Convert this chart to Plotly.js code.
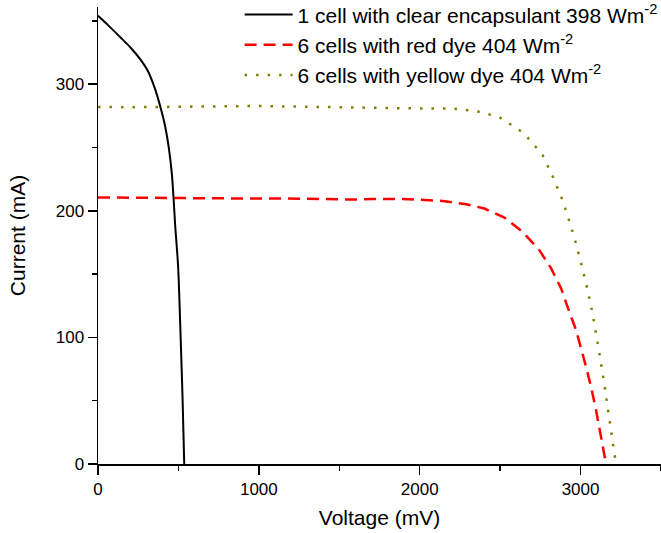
<!DOCTYPE html>
<html>
<head>
<meta charset="utf-8">
<script src="https://cdn.plot.ly/plotly-3.0.1.min.js"></script>
<style>html,body{margin:0;padding:0;background:#fff;}#chart{width:661px;height:533px;}</style>
</head>
<body>
<div id="chart"></div>
<script>
// Series names
const seriesNames = [
  "1 cell with clear encapsulant 398 Wm<sup>-2</sup>",
  "6 cells with red dye 404 Wm<sup>-2</sup>",
  "6 cells with yellow dye 404 Wm<sup>-2</sup>"
];

// 1 cell, clear encapsulant
const clearV = [0, 64, 137, 199, 261, 313, 354, 385, 416, 441, 458, 470, 479, 498, 513, 526, 536];
const clearI = [354, 346.5, 337.3, 329.4, 320, 309.7, 296.5, 283.4, 267.6, 249, 230.7, 209.7, 190, 156, 103, 50.5, 0];

// 6 cells, red dye
const redV = [0, 300, 600, 985, 1300, 1583, 1700, 1895, 2144, 2289, 2402, 2526, 2640, 2744, 2817, 2879, 2930, 2972, 3003, 3034, 3065, 3096, 3127, 3158];
const redI = [210.5, 210.3, 210, 209.7, 209.6, 208.9, 209.3, 209.4, 207.8, 205.2, 201.8, 194.7, 183.4, 168.9, 154.5, 138.7, 120.2, 105.8, 91.3, 76.8, 61, 42.6, 21.5, 0];

// 6 cells, yellow dye
const yellowV = [0, 200, 500, 987, 1400, 1918, 2206, 2351, 2495, 2640, 2702, 2764, 2831, 2889, 2934, 2976, 3013, 3046, 3075, 3100, 3127, 3148, 3168, 3189, 3220];
const yellowI = [282, 281.8, 282.2, 282.8, 282, 281, 280.7, 278.8, 274, 262, 253.6, 243.9, 226, 208, 190.4, 172, 153.7, 136.3, 118.4, 100, 79.5, 63, 45, 26.8, 0];

const FONT = "Arial, 'Liberation Sans', sans-serif";

const traces = [
  {x: clearV, y: clearI, name: seriesNames[0], mode: "lines",
   line: {color: "#000000", width: 2, shape: "spline", smoothing: 0.8, simplify: false}},
  {x: redV, y: redI, name: seriesNames[1], mode: "lines",
   line: {color: "#ff0000", width: 2.5, dash: "12px,7px", simplify: false}},
  {x: yellowV, y: yellowI, name: seriesNames[2], mode: "lines",
   line: {color: "#808000", width: 2.5, dash: "2.5px,9px", simplify: false}}
];

const axisCommon = {
  showgrid: false, zeroline: false, showline: true, linecolor: "#000", linewidth: 1.5,
  ticks: "outside", ticklen: 9, tickwidth: 1.5, tickcolor: "#000",
  tickfont: {family: FONT, size: 17, color: "#000"}
};

const layout = {
  width: 661, height: 533,
  margin: {l: 98, r: 0, t: 7, b: 69, autoexpand: false},
  paper_bgcolor: "#fff", plot_bgcolor: "#fff",
  font: {family: FONT, color: "#000"},
  xaxis: Object.assign({}, axisCommon, {
    range: [0, 3500], dtick: 1000, tick0: 0,
    minor: {ticks: "outside", ticklen: 5, tickwidth: 1.5, tickcolor: "#000", dtick: 500},
    title: {text: "Voltage (mV)", font: {family: FONT, size: 21, color: "#000"}, standoff: 12}
  }),
  yaxis: Object.assign({}, axisCommon, {
    range: [0, 361], dtick: 100, tick0: 0,
    minor: {ticks: "outside", ticklen: 5, tickwidth: 1.5, tickcolor: "#000", dtick: 50},
    title: {text: "Current (mA)", font: {family: FONT, size: 21, color: "#000"}, standoff: 24}
  }),
  showlegend: true,
  legend: {
    x: 0.2515, y: 1.0277, xanchor: "left", yanchor: "top",
    bgcolor: "rgba(0,0,0,0)", borderwidth: 0,
    font: {family: FONT, size: 21, color: "#000"},
    itemwidth: 48
  }
};

Plotly.newPlot("chart", traces, layout, {displayModeBar: false, staticPlot: true});
</script>
</body>
</html>
